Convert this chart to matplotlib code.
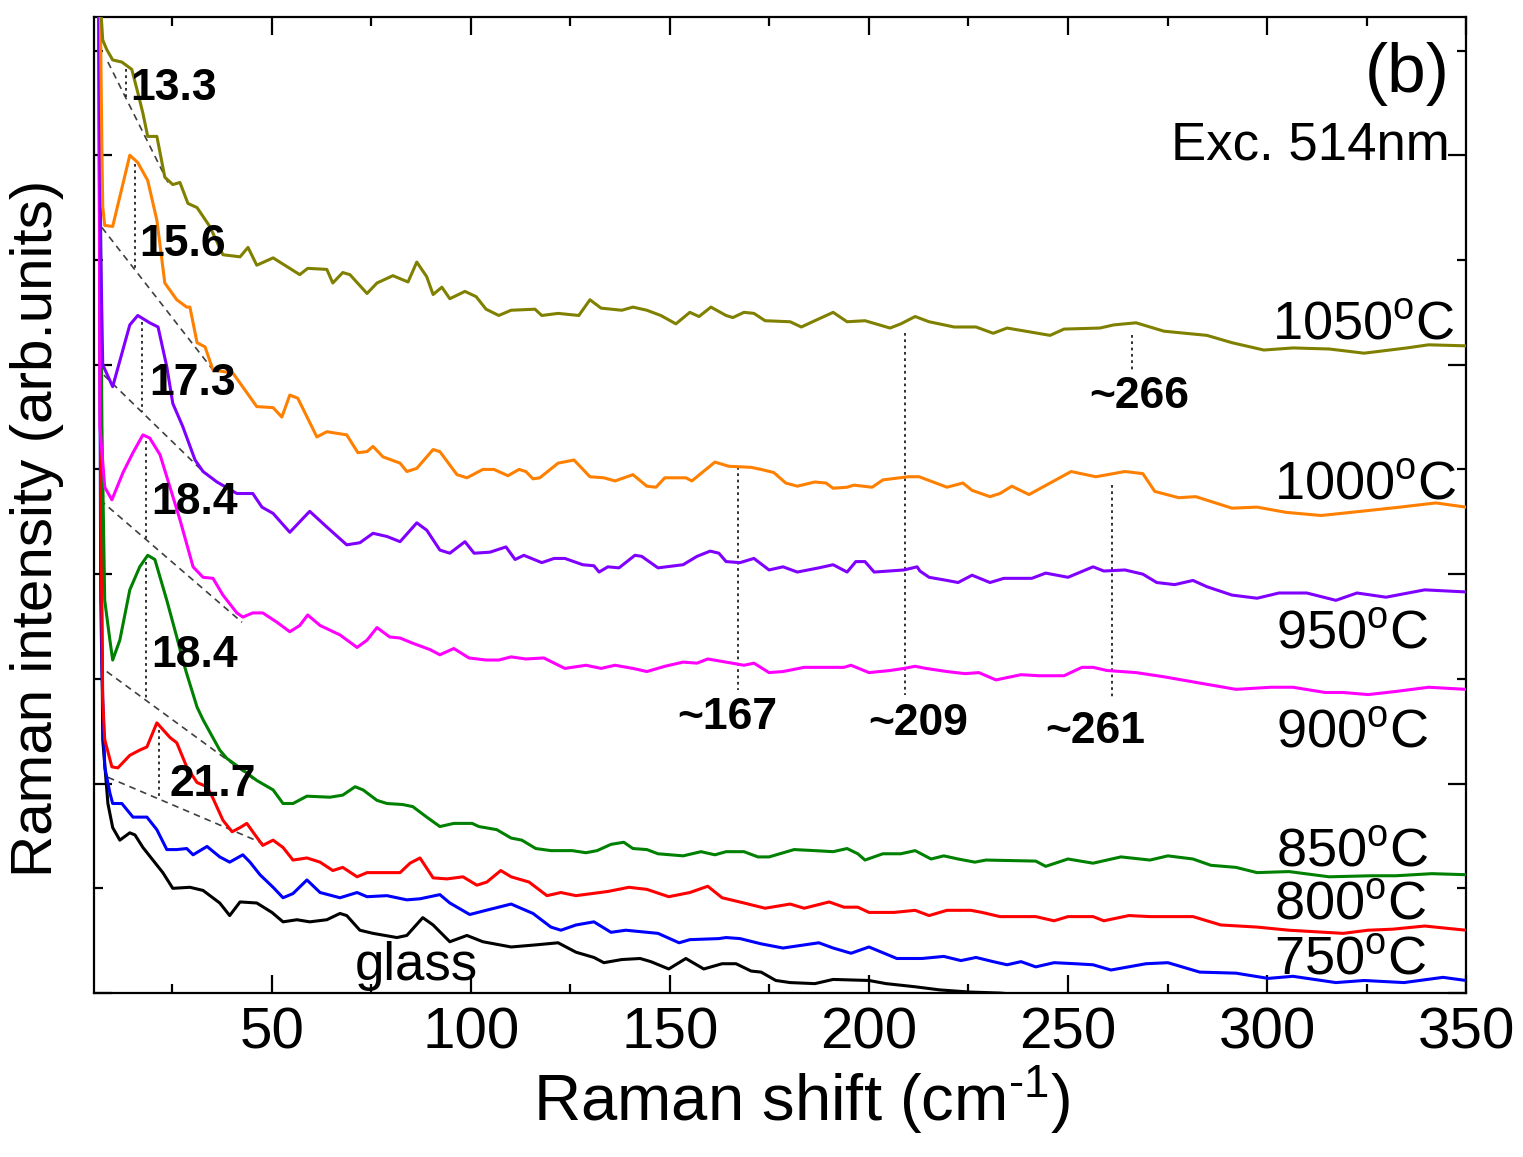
import numpy as np
import matplotlib
matplotlib.use("Agg")
import matplotlib.pyplot as plt
from matplotlib.ticker import MultipleLocator

plt.rcParams['font.family'] = ['Liberation Sans', 'DejaVu Sans']
plt.rcParams['mathtext.fontset'] = 'custom'
plt.rcParams['mathtext.rm'] = 'Liberation Sans'
plt.rcParams['mathtext.it'] = 'Liberation Sans:italic'
plt.rcParams['mathtext.bf'] = 'Liberation Sans:bold'

# ---- Raman spectra (shift in cm^-1, intensity in arbitrary offset units) ----
x_1050 = [6.5, 7.5, 8.5, 10.0, 12.3, 14.8, 16.3, 17.6, 18.8, 21.1, 23.1, 25.1, 26.9, 28.9, 31.2, 34.4, 37.7, 42.0,
          44.0, 46.2, 50.3, 57.0, 59.0, 63.8, 65.3, 67.8, 69.6, 73.9, 76.4, 80.4, 84.2, 86.4, 88.9, 90.5, 92.7, 94.7,
          98.5, 101.3, 103.8, 107.0, 110.1, 116.1, 117.8, 121.9, 127.1, 129.9, 132.7, 137.9, 140.7, 144.2, 147.7,
          151.5, 155.0, 157.3, 160.3, 164.1, 165.8, 168.6, 171.1, 173.9, 180.2, 183.0, 186.4, 191.0, 194.5, 199.0,
          205.3, 208.0, 211.6, 215.1, 221.4, 226.9, 231.2, 234.7, 245.5, 249.0, 258.0, 261.5, 267.1, 274.1, 284.9,
          291.2, 299.2, 306.5, 315.6, 324.4, 335.1, 340.6, 350.0]
y_1050 = [97.0, 91.0, 90.1, 89.1, 88.9, 88.2, 86.0, 84.0, 81.8, 81.8, 77.9, 77.2, 77.4, 75.4, 75.0, 73.2, 70.5, 70.3,
          71.2, 69.5, 70.2, 68.6, 69.2, 69.1, 67.8, 68.8, 68.6, 66.8, 67.8, 68.5, 67.9, 69.8, 68.4, 66.7, 67.4, 66.3,
          67.0, 66.5, 65.3, 64.7, 65.2, 65.3, 64.7, 64.9, 64.7, 66.2, 65.4, 65.2, 65.5, 65.2, 64.7,
          63.9, 65.0, 64.6, 65.5, 64.7, 64.5, 65.0, 64.9, 64.2, 64.1, 63.6, 64.2, 65.0, 64.1, 64.2,
          63.5, 63.9, 64.6, 64.1, 63.6, 63.6, 63.0, 63.5, 62.8, 63.4, 63.5, 63.8, 64.0, 63.2, 62.8,
          62.1, 61.4, 61.6, 61.5, 61.1, 61.6, 61.9, 61.8]

x_1000 = [6.8, 7.3, 7.5, 8.0, 10.0, 14.3, 16.3, 18.8, 21.1, 23.1, 26.1, 28.6, 29.4, 31.2, 33.2, 35.2, 40.2, 46.2,
          50.3, 52.5, 54.5, 56.5, 61.3, 63.8, 68.8, 71.6, 73.9, 75.4, 77.9, 82.2, 83.9, 86.4, 90.5, 92.2, 96.5, 99.0,
          103.0, 105.8, 109.3, 112.1, 113.8, 115.6, 117.3, 121.9, 125.9, 129.9, 133.4, 136.2, 140.7, 144.2, 146.5,
          148.7, 154.0, 155.5, 161.3, 164.8, 170.4, 172.9, 176.1, 179.1, 182.0, 186.4, 189.2, 191.0, 194.5, 196.2,
          200.8, 203.5, 209.8, 212.6, 216.1, 219.6, 223.6, 225.9, 230.4, 232.9, 235.9, 240.2, 245.5, 250.8, 257.0,
          264.3, 268.8, 271.8, 277.8, 282.1, 291.2, 297.5, 304.8, 313.6, 323.6, 333.4, 342.4, 350.0]
y_1000 = [97.0, 80.5, 75.1, 73.3, 73.2, 80.0, 79.3, 77.6, 73.8, 67.8, 66.2, 65.5, 65.5, 62.1, 61.7, 59.5, 59.2, 56.0,
          55.9, 55.0, 57.1, 56.8, 53.1, 53.6, 53.3, 51.6, 51.7, 52.2, 51.2, 50.6, 49.8, 50.1, 51.9, 51.7, 49.5, 49.2,
          50.0, 50.0, 49.4, 50.0, 49.8, 49.1, 49.2, 50.6, 50.9, 49.3, 49.2, 48.9, 49.5, 48.4, 48.3,
          49.2, 49.2, 48.9, 50.7, 50.3, 50.2, 50.0, 49.7, 48.7, 48.4, 48.8, 48.7, 48.2, 48.3, 48.5,
          48.3, 49.0, 49.3, 49.3, 48.8, 48.3, 48.7, 48.0, 47.4, 47.7, 48.4, 47.6, 48.7, 49.8, 49.3,
          49.8, 49.6, 47.9, 47.3, 47.4, 46.3, 46.4, 45.9, 45.6, 46.0, 46.4, 46.8, 46.4]

x_950 = [6.5, 7.0, 7.5, 10.0, 14.3, 16.3, 19.3, 21.4, 23.6, 25.1, 27.6, 30.7, 32.7, 36.2, 41.2, 45.2, 47.5, 50.3,
         54.5, 59.5, 63.8, 68.8, 72.1, 75.4, 78.9, 82.2, 86.4, 88.9, 92.2, 94.7, 98.5, 100.8, 104.8, 108.8, 111.1,
         113.3, 117.8, 120.9, 123.6, 128.1, 130.9, 132.2, 134.4, 137.2, 141.2, 142.9, 147.0, 153.3, 156.8, 160.1,
         162.3, 164.1, 167.6, 171.1, 174.9, 178.4, 182.0, 187.4, 191.0, 194.5, 196.7, 199.0, 201.3, 208.8, 212.1,
         212.8, 215.1, 219.6, 222.4, 225.9, 230.4, 233.9, 240.9, 244.4, 250.0, 256.3, 259.0, 264.3, 268.8, 272.3,
         276.8, 281.4, 284.9, 291.2, 297.5, 303.0, 310.0, 317.3, 322.6, 329.9, 339.6, 350.0]
y_950 = [97.0, 71.0, 60.0, 57.9, 63.8, 64.7, 64.0, 63.6, 59.8, 56.3, 54.1, 50.9, 49.8, 48.8, 47.7, 47.7, 46.4, 45.8,
         44.0, 46.0, 44.5, 42.8, 43.0, 43.9, 43.6, 43.1, 44.9, 44.2, 42.3, 42.0, 43.1, 42.0, 42.1, 42.6, 41.4,
         41.8, 41.1, 41.5, 41.5, 40.9, 40.8, 40.2, 40.7, 40.6, 41.8, 41.7, 40.6, 40.9, 41.7, 42.2,
         42.0, 41.2, 41.1, 41.5, 40.4, 40.7, 40.2, 40.6, 40.9, 40.2, 41.2, 41.2, 40.2, 40.4, 40.7,
         40.3, 39.7, 39.4, 39.2, 39.9, 39.2, 39.6, 39.6, 40.1, 39.7, 40.7, 40.3, 40.4, 40.0, 39.2,
         39.0, 39.4, 38.8, 38.0, 37.7, 38.2, 38.2, 37.5, 38.2, 37.8, 38.5, 38.3]

x_900 = [6.5, 6.8, 8.0, 9.8, 12.6, 15.1, 17.6, 19.3, 21.9, 24.4, 26.9, 30.2, 32.7, 35.2, 37.7, 41.2, 42.7, 45.2,
         47.7, 51.3, 54.5, 57.0, 59.0, 62.1, 67.1, 71.4, 73.9, 76.4, 79.6, 82.2, 85.4, 89.7, 92.2, 95.7, 99.5,
         103.8, 107.0, 110.1, 113.8, 118.3, 123.6, 128.9, 132.7, 136.2, 140.7, 144.2, 148.7, 153.3, 156.8, 159.5,
         164.1, 168.6, 171.1, 174.9, 178.4, 183.7, 193.7, 195.5, 200.0, 205.3, 208.8, 211.6, 214.3, 219.6, 224.1,
         227.6, 231.9, 238.2, 242.7, 249.0, 253.5, 256.3, 259.8, 267.1, 274.1, 283.1, 292.2, 301.0, 306.5, 314.6,
         319.1, 325.4, 332.4, 340.6, 350.0]
y_900 = [97.0, 54.1, 48.3, 47.1, 49.7, 51.6, 53.3, 53.0, 51.4, 48.3, 45.2, 40.7, 39.7, 39.6, 38.0, 36.3, 35.9, 36.3,
         36.3, 35.4, 34.5, 35.1, 36.1, 35.1, 34.2, 33.0, 33.7, 34.9, 34.0, 33.9, 33.4, 32.8, 32.3, 32.9, 32.0,
         31.8, 31.8, 32.1, 31.9, 32.0, 31.0, 31.3, 31.0, 31.3, 31.0, 30.7, 31.2, 31.6, 31.5, 31.9,
         31.6, 31.3, 31.5, 30.6, 30.7, 31.1, 31.1, 31.3, 30.6, 30.8, 31.0, 31.2, 31.0, 30.7, 30.5,
         30.6, 29.9, 30.4, 30.3, 30.3, 31.1, 31.1, 30.8, 30.6, 30.2, 29.6, 29.0, 29.2, 29.2, 28.7,
         28.7, 28.5, 28.8, 29.2, 29.0]

x_850 = [6.5, 7.3, 8.0, 9.3, 10.0, 11.8, 14.3, 16.8, 18.8, 20.6, 23.6, 26.1, 27.6, 28.6, 31.2, 32.7, 36.9, 38.7,
         42.7, 46.2, 50.3, 52.8, 55.3, 58.8, 64.6, 67.8, 70.9, 72.9, 76.4, 78.9, 82.9, 85.4, 88.9, 92.2, 95.7,
         100.3, 102.0, 106.5, 110.1, 112.8, 116.3, 120.1, 125.4, 128.9, 131.7, 135.2, 138.4, 140.7, 144.2, 147.0,
         153.3, 157.8, 161.3, 164.1, 168.6, 172.1, 174.9, 181.2, 186.4, 191.0, 194.5, 197.2, 199.0, 203.5, 208.0,
         211.6, 215.6, 218.8, 222.4, 226.6, 229.4, 241.9, 244.4, 250.0, 256.3, 263.3, 270.6, 275.1, 281.4, 285.9,
         292.2, 297.5, 305.5, 315.6, 326.1, 332.4, 341.4, 350.0]
y_850 = [97.0, 54.1, 37.5, 33.7, 31.8, 33.7, 38.5, 40.7, 41.8, 41.4, 37.5, 34.0, 31.8, 30.5, 27.3, 26.1, 23.2, 22.4,
         21.3, 20.3, 19.4, 18.1, 18.1, 18.8, 18.7, 18.9, 19.7, 19.4, 18.4, 18.1, 18.0, 17.8, 16.8, 15.9, 16.2,
         16.2, 15.9, 15.6, 14.8, 14.6, 13.8, 13.6, 13.6, 13.4, 13.6, 14.2, 14.4, 13.8, 13.7, 13.3,
         13.1, 13.5, 13.2, 13.5, 13.5, 13.0, 13.0, 13.7, 13.6, 13.5, 13.8, 13.3, 12.7, 13.3, 13.3,
         13.6, 12.8, 13.1, 12.8, 12.5, 12.7, 12.6, 12.1, 12.8, 12.4, 13.0, 12.7, 13.1, 12.8, 12.2,
         12.0, 11.5, 11.6, 11.1, 11.2, 11.2, 11.4, 11.3]

x_800 = [6.5, 7.0, 7.5, 8.0, 9.8, 11.3, 14.3, 16.8, 18.6, 21.1, 24.4, 26.1, 28.6, 31.2, 33.7, 35.2, 37.7, 40.0,
         42.0, 43.7, 45.2, 47.7, 50.3, 52.8, 55.3, 58.8, 62.1, 65.3, 67.8, 71.4, 73.9, 82.2, 84.7, 87.2, 90.5,
         94.0, 98.0, 101.5, 104.0, 107.5, 110.1, 114.6, 119.1, 122.6, 126.4, 134.4, 139.7, 144.2, 149.7, 155.0,
         159.5, 163.1, 168.6, 173.9, 180.2, 183.7, 190.0, 193.7, 197.2, 200.0, 206.3, 211.6, 215.1, 219.6, 225.6,
         228.4, 232.9, 241.9, 246.5, 250.0, 256.3, 259.0, 265.3, 270.6, 281.4, 288.4, 297.5, 305.5, 319.1, 325.4,
         331.6, 339.6, 350.0]
y_800 = [97.0, 47.1, 28.0, 24.2, 21.6, 21.5, 22.7, 23.2, 23.5, 25.8, 24.4, 23.9, 21.6, 20.1, 19.7, 18.6, 16.5, 15.4,
         15.8, 16.2, 15.4, 14.1, 14.6, 13.9, 12.7, 12.9, 12.5, 11.7, 12.0, 11.1, 11.5, 11.5, 12.4, 12.9, 11.0,
         10.9, 11.1, 10.3, 10.6, 11.7, 11.1, 10.6, 9.3, 9.6, 9.3, 9.7, 10.1, 9.9, 9.2, 9.6,
         10.2, 9.1, 8.6, 8.1, 8.5, 8.1, 8.7, 8.2, 8.2, 7.7, 7.7, 7.9, 7.4, 7.9, 7.9,
         7.7, 7.3, 7.3, 6.9, 7.3, 7.3, 6.9, 7.4, 7.3, 7.3, 6.5, 6.3, 6.0, 5.7, 6.0,
         6.1, 6.4, 6.0]

x_750 = [6.5, 7.0, 7.3, 8.0, 9.3, 10.0, 12.3, 15.1, 18.6, 21.1, 23.6, 26.1, 28.6, 30.2, 33.7, 36.9, 39.4, 42.7,
         44.5, 47.0, 50.3, 52.8, 55.3, 58.8, 62.1, 67.1, 71.4, 73.9, 78.9, 83.9, 87.2, 92.2, 94.7, 99.7, 103.8,
         110.1, 115.6, 120.1, 122.6, 126.4, 130.9, 135.2, 138.9, 147.0, 152.3, 155.0, 162.3, 164.1, 167.6, 172.9,
         178.4, 182.0, 187.4, 191.0, 195.5, 200.0, 207.0, 213.3, 218.8, 223.1, 226.9, 231.2, 234.7, 238.2, 241.9,
         246.5, 251.8, 256.3, 260.8, 269.6, 275.1, 283.1, 292.2, 300.3, 306.5, 317.3, 324.4, 334.4, 344.2, 350.0]
y_750 = [97.0, 37.5, 30.8, 21.6, 19.1, 18.1, 18.1, 16.8, 16.8, 15.6, 13.7, 13.7, 13.8, 13.2, 14.0, 13.0, 12.5, 13.2,
         12.5, 11.3, 10.1, 9.1, 9.5, 10.8, 9.6, 9.1, 9.6, 9.2, 9.3, 8.9, 9.0, 9.4, 8.6, 7.5, 7.9,
         8.5, 7.6, 6.3, 6.0, 6.5, 6.8, 5.8, 6.0, 5.7, 4.8, 5.1, 5.2, 5.3, 5.2, 4.7,
         4.3, 4.5, 4.8, 4.3, 3.8, 4.4, 3.3, 3.3, 3.5, 3.1, 3.4, 3.0, 2.7, 3.0, 2.5,
         2.9, 2.8, 2.7, 2.2, 2.8, 2.9, 2.0, 1.9, 1.4, 1.6, 1.0, 1.2, 1.0, 1.5, 1.2]

x_glass = [6.8, 7.0, 7.5, 8.8, 10.0, 11.8, 14.3, 15.6, 17.6, 20.1, 22.6, 25.1, 29.4, 32.7, 36.9, 39.4, 42.0, 46.2,
           50.0, 52.8, 56.3, 59.5, 63.8, 67.1, 68.8, 72.1, 75.4, 81.4, 83.9, 87.9, 90.5, 94.7, 99.0, 103.0, 110.1,
           116.3, 121.9, 126.4, 130.9, 133.4, 137.9, 142.5, 145.2, 149.7, 154.0, 158.5, 163.1, 166.6, 170.4, 172.9,
           176.6, 180.2, 186.4, 191.0, 200.0, 204.3, 211.6, 217.8, 225.1, 232.9, 242.9, 258.0]
y_glass = [97.0, 47.1, 24.2, 18.1, 15.8, 14.6, 15.3, 15.1, 13.9, 12.7, 11.5, 10.0, 10.1, 9.8, 8.6, 7.4, 8.7, 8.6,
           7.7, 6.8, 7.0, 6.8, 7.0, 7.6, 7.4, 6.0, 5.7, 5.3, 5.5, 7.2, 6.5, 4.9, 5.5, 4.9, 4.4,
           4.6, 4.8, 3.9, 3.4, 2.9, 3.2, 3.3, 3.0, 2.3, 3.3, 2.3, 2.8, 2.8, 2.1, 2.0,
           1.2, 1.0, 0.9, 1.3, 1.2, 0.9, 0.6, 0.3, 0.1, 0.0, -0.3, -0.9]

series = [
    (x_glass, y_glass, 'black'),
    (x_750, y_750, '#0000ff'),
    (x_800, y_800, '#ff0000'),
    (x_850, y_850, '#008000'),
    (x_900, y_900, '#ff00ff'),
    (x_950, y_950, '#8000ff'),
    (x_1000, y_1000, '#ff8000'),
    (x_1050, y_1050, '#808000'),
]

# low-frequency boson peaks: position, curve, baseline (x0, y0, x1, y1)
peak_pos = [13.3, 15.6, 17.3, 18.4, 18.4, 21.7]
peak_curves = [(x_1050, y_1050), (x_1000, y_1000), (x_950, y_950),
               (x_900, y_900), (x_850, y_850), (x_800, y_800)]
baselines = [(8.8, 88.9, 23.9, 77.4), (7.3, 73.1, 35.2, 59.5), (7.8, 59.0, 32.7, 49.8),
             (6.8, 47.1, 42.5, 35.4), (8.5, 30.7, 46.2, 20.2), (8.8, 20.6, 47.7, 14.3)]
peak_label_xy = [(14.3, 86.4), (16.8, 71.5), (19.3, 58.2), (19.8, 46.8), (19.8, 32.2), (24.4, 19.9)]

# higher-frequency bands: position, vertical span, label position
band_pos = [167, 209, 261, 266]
band_span = [(50.2, 28.9), (63.0, 28.5), (48.5, 28.2), (62.8, 59.3)]
band_label_xy = [(164.5, 26.3), (212.4, 25.7), (256.8, 25.0), (268.0, 57.0)]

temp_labels = ['1050', '1000', '950', '900', '850', '800', '750']
temp_label_xy = [(347.2, 62.4), (347.6, 47.1), (340.4, 32.9), (340.4, 23.4), (340.4, 12.1), (339.9, 7.0), (339.9, 1.7)]

fig = plt.figure(figsize=(15.23, 11.57), dpi=100)
ax = fig.add_axes([0.0617, 0.1417, 0.9009, 0.8436])

for xs, ys, c in series:
    ax.plot(xs, ys, color=c, lw=2.2, solid_joinstyle='round', zorder=3)

for (bx0, by0, bx1, by1) in baselines:
    ax.plot([bx0, bx1], [by0, by1], color='#404040', lw=1.2, ls=(0, (4, 3)), zorder=2)

for pos, (cx, cy), (bx0, by0, bx1, by1), (lx, ly) in zip(peak_pos, peak_curves, baselines, peak_label_xy):
    top = np.interp(pos, cx, cy) - 0.4
    base = by0 + (by1 - by0) * (pos - bx0) / (bx1 - bx0)
    ax.plot([pos, pos], [top, base], color='#202020', lw=1.3, ls=(0, (1.5, 2)), zorder=2)
    ax.text(lx, ly, f'{pos:.1f}', fontsize=32, fontweight='bold', ha='left', va='center', zorder=4)

for pos, (y0, y1), (lx, ly) in zip(band_pos, band_span, band_label_xy):
    ax.plot([pos, pos], [y0, y1], color='#202020', lw=1.3, ls=(0, (1.5, 2)), zorder=2)
    ax.text(lx, ly, f'~{pos}', fontsize=32, fontweight='bold', ha='center', va='center', zorder=4)

for t, (tx, ty) in zip(temp_labels, temp_label_xy):
    ax.text(tx, ty, t + r'$^{\mathrm{o}}$C', fontsize=39, ha='right', va='baseline', zorder=4)

ax.text(86.2, 1.2, 'glass', fontsize=38, ha='center', va='baseline', zorder=4)
ax.text(345.9, 87.8, '(b)', fontsize=50, ha='right', va='center', zorder=4)
ax.text(345.9, 79.6, 'Exc. 514nm', fontsize=38, ha='right', va='baseline', zorder=4)

ax.set_xlim(5.3, 350)
ax.set_ylim(0, 93.2)
ax.xaxis.set_major_locator(MultipleLocator(50))
ax.xaxis.set_minor_locator(MultipleLocator(25))
ax.yaxis.set_major_locator(MultipleLocator(20))
ax.yaxis.set_minor_locator(MultipleLocator(10))
ax.tick_params(which='both', direction='in', top=True, right=True, width=1.6)
ax.tick_params(which='major', length=13)
ax.tick_params(which='minor', length=6.5)
ax.tick_params(axis='x', labelsize=42, pad=10)
ax.tick_params(axis='y', labelleft=False)
for sp in ax.spines.values():
    sp.set_linewidth(1.6)

ax.set_xlabel(r'Raman shift (cm$^{\text{-1}}$)', fontsize=47)
ax.xaxis.set_label_coords(0.516, -0.072)
ax.set_ylabel('Raman intensity (arb.units)', fontsize=42)
ax.yaxis.set_label_coords(-0.022, 0.476)

fig.savefig('out.png', dpi=100)
